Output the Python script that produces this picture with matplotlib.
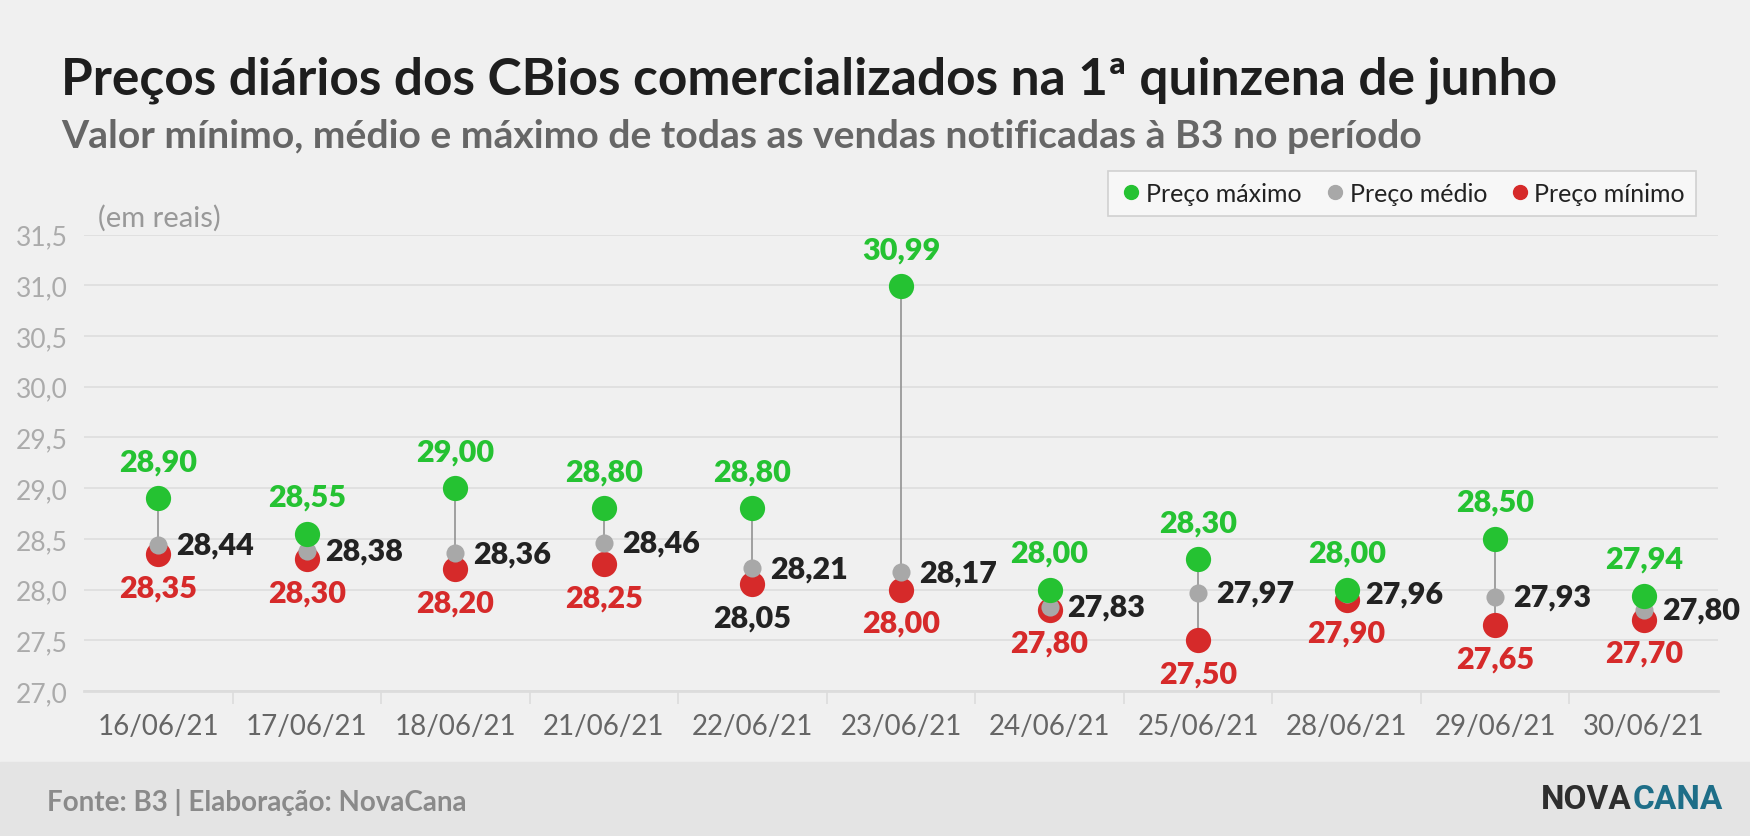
import matplotlib.pyplot as plt
from matplotlib.lines import Line2D
from matplotlib.patches import Rectangle

plt.rcParams['font.family'] = ['Lato', 'DejaVu Sans']

datas = ['16/06/21', '17/06/21', '18/06/21', '21/06/21', '22/06/21', '23/06/21',
         '24/06/21', '25/06/21', '28/06/21', '29/06/21', '30/06/21']
preco_max = [28.90, 28.55, 29.00, 28.80, 28.80, 30.99, 28.00, 28.30, 28.00, 28.50, 27.94]
preco_med = [28.44, 28.38, 28.36, 28.46, 28.21, 28.17, 27.83, 27.97, 27.96, 27.93, 27.80]
preco_min = [28.35, 28.30, 28.20, 28.25, 28.05, 28.00, 27.80, 27.50, 27.90, 27.65, 27.70]
y_ticks = [27.0, 27.5, 28.0, 28.5, 29.0, 29.5, 30.0, 30.5, 31.0, 31.5]

VERDE = '#25c232'
CINZA = '#a8a8a8'
VERMELHO = '#d62a2a'
PRETO = '#222222'
FUNDO = '#f0f0f0'

W, H = 1750, 837
fig = plt.figure(figsize=(W / 100, H / 100), dpi=100, facecolor=FUNDO)

# rodapé
fig.patches.append(Rectangle((0, 0), 1, (H - 763) / H, transform=fig.transFigure,
                             color='#e4e4e4', zorder=0))

ax = fig.add_axes([84 / W, 1 - 692 / H, (1718 - 84) / W, (692 - 235.5) / H])
ax.set_facecolor(FUNDO)

x = list(range(len(datas)))
ax.set_xlim(-0.5, len(datas) - 0.5)
ax.set_ylim(27.0, 31.5)

for sp in ['top', 'right', 'left']:
    ax.spines[sp].set_visible(False)
ax.spines['bottom'].set_color('#dcdcdc')
ax.spines['bottom'].set_linewidth(2)

ax.set_yticks(y_ticks)
ax.set_yticklabels([f'{v:.1f}'.replace('.', ',') for v in y_ticks])
ax.grid(axis='y', color='#dddddd', linewidth=1.2)
ax.set_axisbelow(True)
ax.tick_params(axis='y', length=0, labelsize=19, labelcolor='#ababab', pad=12)

ax.set_xticks(x)
ax.set_xticklabels(datas)
ax.tick_params(axis='x', length=0, labelsize=20, labelcolor='#666666', pad=16)
ax.set_xticks([i + 0.5 for i in x[:-1]], minor=True)
ax.tick_params(axis='x', which='minor', length=9, color='#dcdcdc', width=1.2)

# linhas verticais
ax.vlines(x, preco_min, preco_max, color='#999999', linewidth=1.3, zorder=2)

ax.scatter(x, preco_min, s=330, color=VERMELHO, zorder=3, linewidths=0)
ax.scatter(x, preco_med, s=170, color=CINZA, zorder=4, linewidths=0)
ax.scatter(x, preco_max, s=330, color=VERDE, zorder=5, linewidths=0)

def fmt(v):
    return f'{v:.2f}'.replace('.', ',')

cor_min = [VERMELHO] * len(datas)
cor_min[4] = PRETO

for i in x:
    ax.annotate(fmt(preco_max[i]), (i, preco_max[i]), xytext=(0, 37), textcoords='offset pixels',
                ha='center', va='center', fontsize=22, fontweight='heavy', color=VERDE,
                annotation_clip=False)
    ax.annotate(fmt(preco_min[i]), (i, preco_min[i]), xytext=(0, -33), textcoords='offset pixels',
                ha='center', va='center', fontsize=22, fontweight='heavy', color=cor_min[i],
                annotation_clip=False)
    ax.annotate(fmt(preco_med[i]), (i, preco_med[i]), xytext=(18, 0), textcoords='offset pixels',
                ha='left', va='center', fontsize=22, fontweight='heavy', color=PRETO,
                annotation_clip=False)

# textos
fig.text(61 / W, 1 - 95 / H, 'Preços diários dos CBios comercializados na 1ª quinzena de junho',
         fontsize=37, fontweight='bold', color='#1e1e1e', va='baseline')
fig.text(61 / W, 1 - 148 / H, 'Valor mínimo, médio e máximo de todas as vendas notificadas à B3 no período',
         fontsize=28.2, fontweight='bold', color='#666666', va='baseline')
fig.text(98 / W, 1 - 218 / H, '(em reais)', fontsize=21, color='#999999', va='center')

handles = [Line2D([], [], marker='o', linestyle='', color=VERDE, markersize=10),
           Line2D([], [], marker='o', linestyle='', color=CINZA, markersize=10),
           Line2D([], [], marker='o', linestyle='', color=VERMELHO, markersize=10)]
leg = fig.legend(handles, ['Preço máximo', 'Preço médio', 'Preço mínimo'],
                 loc='center', bbox_to_anchor=(1402 / W, 1 - 194.5 / H), ncol=3,
                 fontsize=18, frameon=True, fancybox=False, facecolor='#fafafa',
                 edgecolor='#c8c8c8', handletextpad=0.1, columnspacing=0.8,
                 handlelength=1.0, borderpad=0.45)
leg.get_frame().set_linewidth(1.2)
for t in leg.get_texts():
    t.set_color('#222222')

fig.text(47 / W, 1 - 803 / H, 'Fonte: B3 | Elaboração: NovaCana', fontsize=20,
         fontweight='bold', color='#8a8a8a', va='center')
fig.text(1633 / W - 0.0005, 1 - 800 / H, 'NOVA', fontsize=24, fontweight='bold',
         color='#2e2e2e', va='center', ha='right', family=['Roboto', 'DejaVu Sans'])
fig.text(1633 / W, 1 - 800 / H, 'CANA', fontsize=24, fontweight='bold',
         color='#1e6e88', va='center', ha='left', family=['Roboto', 'DejaVu Sans'])

fig.savefig('out.png', dpi=100, facecolor=FUNDO)
